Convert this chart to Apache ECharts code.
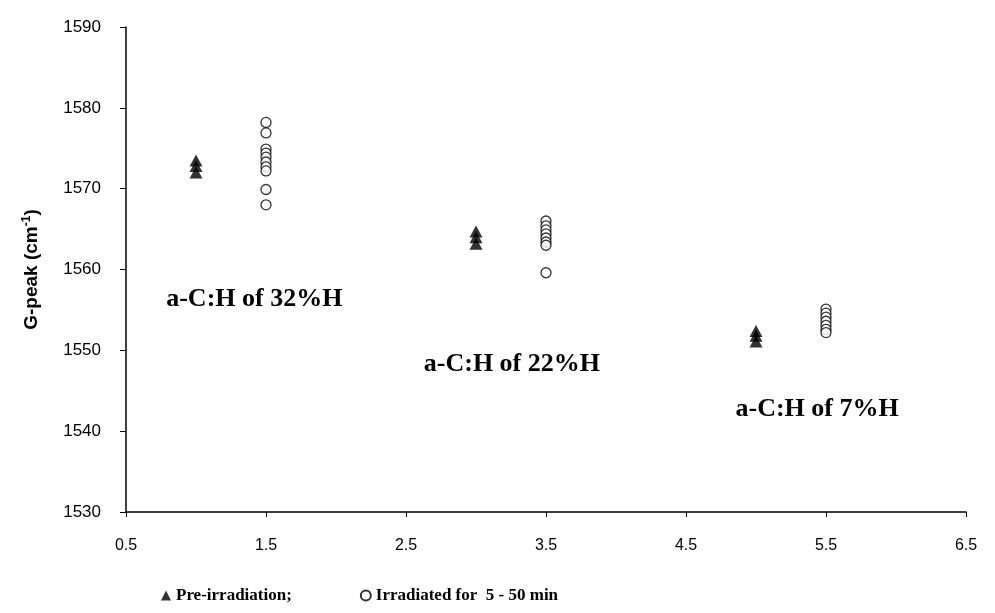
<!DOCTYPE html>
<html>
<head>
<meta charset="utf-8">
<script src="https://cdn.jsdelivr.net/npm/echarts@6/dist/echarts.min.js"></script>
<style>
    html, body {margin: 0; padding: 0; background: #fff;}
    #main {width: 995px; height: 613px;}
</style>
</head>
<body>
<div id="main"></div>
<script>
// pre-irradiation (filled triangles)
var preX = [1, 1, 1, 3, 3, 3, 5, 5, 5];
var preY = [1572.0, 1572.8, 1573.5, 1563.2, 1564.0, 1564.7, 1551.1, 1551.8, 1552.4];

// irradiated 5 - 50 min (open circles)
var irrX = [1.5, 1.5, 1.5, 1.5, 1.5, 1.5, 1.5, 1.5, 1.5, 1.5,
    3.5, 3.5, 3.5, 3.5, 3.5, 3.5, 3.5, 3.5,
    5.5, 5.5, 5.5, 5.5, 5.5, 5.5, 5.5];
var irrY = [1578.2, 1576.9, 1574.9, 1574.4, 1573.9, 1573.3, 1572.7, 1572.2, 1569.9, 1568.0,
    1566.0, 1565.4, 1564.9, 1564.4, 1563.9, 1563.4, 1563.0, 1559.6,
    1555.1, 1554.6, 1554.1, 1553.6, 1553.1, 1552.6, 1552.2];

// sample labels
var noteX = [1.42, 3.26, 5.44];
var noteY = [1556.2, 1548.2, 1542.6];
var noteText = ['a-C:H of 32%H', 'a-C:H of 22%H', 'a-C:H of 7%H'];

var xTicks = [0.5, 1.5, 2.5, 3.5, 4.5, 5.5, 6.5];
var yTicks = [1530, 1540, 1550, 1560, 1570, 1580, 1590];

var zip = function (xs, ys) {
    var out = [];
    for (var i = 0; i < xs.length; i++) {
        out.push([xs[i], ys[i]]);
    }
    return out;
};

var chart = echarts.init(document.getElementById('main'));

var option = {
    animation: false,
    backgroundColor: '#fff',
    grid: {left: 126, right: 29, top: 27, bottom: 101},
    legend: {
        left: 156,
        bottom: 4,
        itemGap: 68,
        itemWidth: 10,
        itemHeight: 10,
        textStyle: {
            fontFamily: 'Liberation Serif',
            fontWeight: 'bold',
            fontSize: 17,
            color: '#000'
        },
        data: [
            {name: 'Pre-irradiation;', icon: 'triangle'},
            {name: 'Irradiated for  5 - 50 min', icon: 'circle'}
        ]
    },
    xAxis: {
        type: 'value',
        min: xTicks[0],
        max: xTicks[xTicks.length - 1],
        interval: 1,
        splitLine: {show: false},
        axisLine: {onZero: false, lineStyle: {color: '#000', width: 1.5}},
        axisTick: {show: true, length: 5, lineStyle: {color: '#000'}},
        axisLabel: {
            margin: 26,
            fontFamily: 'Liberation Sans',
            fontSize: 16,
            color: '#000',
            formatter: function (v) { return v.toFixed(1); }
        }
    },
    yAxis: {
        type: 'value',
        min: yTicks[0],
        max: yTicks[yTicks.length - 1],
        interval: 10,
        splitLine: {show: false},
        axisLine: {onZero: false, lineStyle: {color: '#000', width: 1.5}},
        axisTick: {show: true, length: 6, lineStyle: {color: '#000'}},
        axisLabel: {
            margin: 25,
            fontFamily: 'Liberation Sans',
            fontSize: 17,
            color: '#000',
            formatter: function (v) { return String(v); }
        },
        name: '{n|G-peak (cm}{s|-1}{n|)}',
        nameLocation: 'middle',
        nameGap: 84,
        nameTextStyle: {
            rich: {
                n: {fontFamily: 'Liberation Sans', fontWeight: 'bold', fontSize: 19, color: '#000'},
                s: {fontFamily: 'Liberation Sans', fontWeight: 'bold', fontSize: 12, color: '#000', verticalAlign: 'top', padding: [0, 0, 9, 0]}
            }
        }
    },
    series: [
        {
            name: 'Pre-irradiation;',
            type: 'scatter',
            symbol: 'triangle',
            symbolSize: [13, 12],
            itemStyle: {color: '#000'},
            data: zip(preX, preY)
        },
        {
            name: 'Irradiated for  5 - 50 min',
            type: 'scatter',
            symbol: 'circle',
            symbolSize: 10,
            itemStyle: {color: '#fff', borderColor: '#000', borderWidth: 1.3},
            data: zip(irrX, irrY)
        },
        {
            name: 'notes',
            type: 'scatter',
            symbolSize: 1,
            itemStyle: {opacity: 0},
            silent: true,
            label: {
                show: true,
                position: [0, 0],
                align: 'center',
                verticalAlign: 'middle',
                fontFamily: 'Liberation Serif',
                fontWeight: 'bold',
                fontSize: 26,
                color: '#000',
                opacity: 1,
                formatter: function (p) { return noteText[p.dataIndex]; }
            },
            data: zip(noteX, noteY)
        }
    ]
};
chart.setOption(option);
</script>
</body>
</html>
